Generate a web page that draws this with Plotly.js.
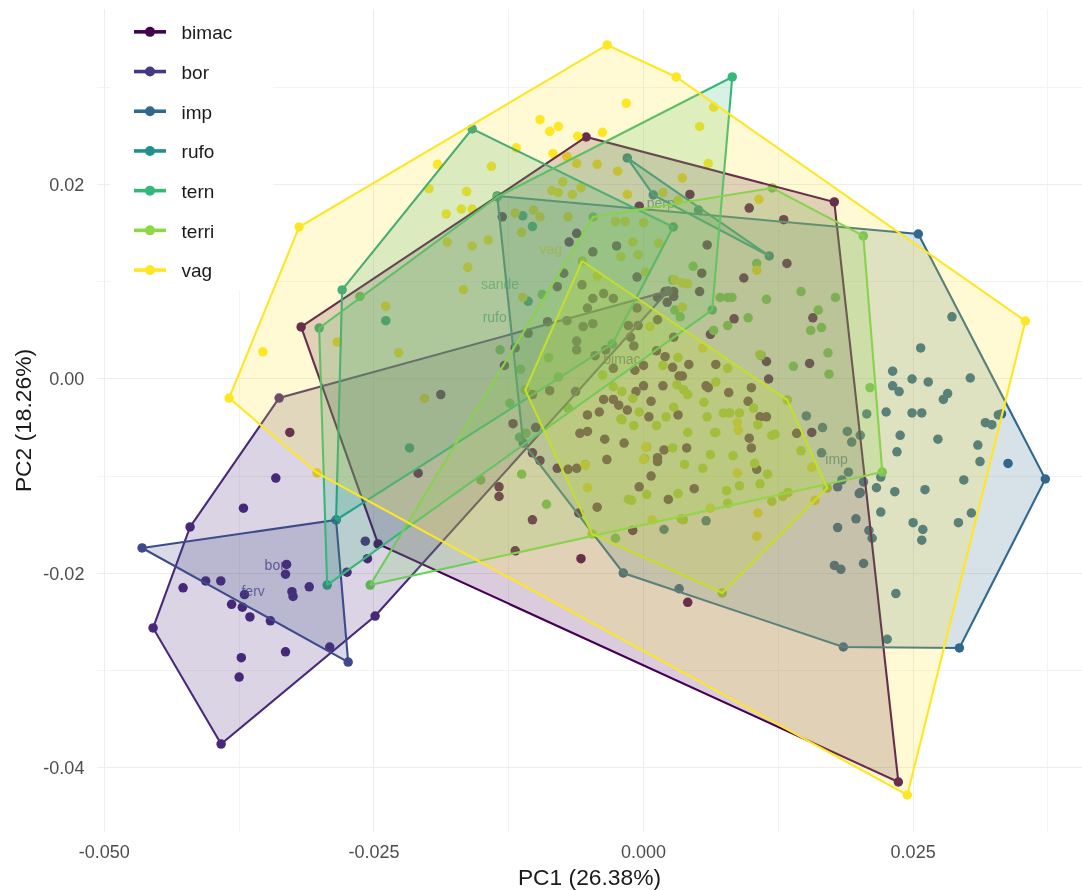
<!DOCTYPE html>
<html>
<head>
<meta charset="utf-8">
<script src="https://cdn.plot.ly/plotly-3.0.1.min.js"></script>
<style>html,body{margin:0;padding:0;background:#fff}#chart{width:1082px;height:890px;filter:blur(0.4px)}</style>
</head>
<body>
<div id="chart"></div>
<script>
const xTickVals = [-0.05, -0.025, 0, 0.025];
const xTickText = ['-0.050', '-0.025', '0.000', '0.025'];
const xMinorVals = [-0.0375, -0.0125, 0.0125, 0.0375];
const yTickVals = [-0.04, -0.02, 0, 0.02];
const yTickText = ['-0.04', '-0.02', '0.00', '0.02'];
const yMinorVals = [-0.03, -0.01, 0.01, 0.03];

const legendNames = ['bimac', 'bor', 'imp', 'rufo', 'tern', 'terri', 'vag'];
const legendColors = ['#440154', '#443A83', '#31688E', '#21908C', '#35B779', '#8FD744', '#FDE725'];

const speciesNames = ['bimac', 'bor', 'ferv', 'imp', 'perp', 'rufo', 'sande', 'tern', 'terri', 'vag'];
const speciesColors = ['#440154', '#482878', '#3E4A89', '#31688E', '#26828E', '#1F9E89', '#35B779', '#6DCD59', '#B4DE2C', '#FDE725'];

const labelX = [-0.0020, -0.0342, -0.0362, 0.0179, 0.0016, -0.0138, -0.0133, null, null, -0.0086];
const labelY = [0.0019, -0.0193, -0.0220, -0.0084, 0.0180, 0.0062, 0.0096, null, null, 0.0132];

const bimacHullX = [-0.03175, -0.00532, 0.01769, 0.02363, -0.02461];
const bimacHullY = [0.00536, 0.02492, 0.01823, -0.04150, -0.01699];
const borHullX = [-0.03917, -0.04548, -0.04205, -0.03379, 0.00229, -0.02489];
const borHullY = [-0.03759, -0.02564, -0.01524, -0.00196, 0.00906, -0.02441];
const fervHullX = [-0.04650, -0.02851, -0.02739];
const fervHullY = [-0.01740, -0.01452, -0.02915];
const impHullX = [-0.01357, 0.02548, 0.03726, 0.02929, 0.01853, -0.00188, -0.01116];
const impHullY = [0.01885, 0.01493, -0.01030, -0.02770, -0.02760, -0.01998, -0.00659];
const perpHullX = [-0.00151, 0.00090, 0.01166];
const perpHullY = [0.02276, 0.01895, 0.01267];
const rufoHullX = [-0.02795, -0.01589, 0.00276, -0.00290, -0.02851];
const rufoHullY = [0.00917, 0.02575, 0.01565, 0.00360, -0.01452];
const sandeHullX = [-0.03008, -0.01357, 0.00823, 0.00637, -0.02934];
const sandeHullY = [0.00525, 0.01874, 0.03110, 0.00711, -0.02122];
const ternHullX = [-0.02535, -0.00467, 0.01194, 0.02038, 0.02214];
const ternHullY = [-0.02122, 0.01668, 0.01967, 0.01473, -0.00958];
const terriHullX = [-0.00569, 0.01333, 0.01704, 0.00730, -0.00476, -0.01097];
const terriHullY = [0.01215, -0.00216, -0.01123, -0.02204, -0.01596, -0.00113];
const vagHullX = [-0.00337, 0.00303, 0.03541, 0.02446, -0.03027, -0.03843, -0.03194];
const vagHullY = [0.03440, 0.03110, 0.00597, -0.04284, -0.00968, -0.00196, 0.01565];

const bimacX = [0.0043,0.0098,-0.0004,0.0130,0.0059,0.0133,0.0054,0.0093,0.0052,0.0084,0.0062,0.0157,0.0154,0.0114,0.0116,0.0156,0.0142,-0.0131,-0.0062,-0.0069,-0.0047,-0.0025,-0.0080,-0.0074,-0.0006,0.0020,0.0028,0.0028,0.0022,0.0013,-0.0014,-0.0005,0.0013,-0.0012,-0.0009,0.0028,0.0012,0.0020,0.0042,0.0067,0.0027,0.0033,0.0000,-0.0008,-0.0028,0.0000,0.0018,0.0058,0.0060,-0.0007,-0.0037,-0.0028,-0.0023,-0.0015,0.0007,0.0005,0.0032,-0.0041,-0.0052,-0.0059,-0.0052,-0.0036,-0.0018,0.0040,0.0019,0.0013,0.0013,-0.0034,0.0007,-0.0004,0.0047,0.0023,-0.0043,-0.0080,-0.0070,-0.0062,-0.0103,-0.0096,-0.0100,-0.0121,-0.0134,-0.0134,-0.0103,-0.0060,-0.0057,-0.0047,-0.0037,-0.0028,-0.0052,-0.0006,-0.0071,-0.0056,-0.0047,-0.0089,-0.0107,-0.0062,-0.0062,-0.0045,-0.0035,-0.0119,-0.0129,-0.0087,-0.0103,-0.0063,0.0079,0.0100,0.0097,0.0108,0.0114,0.0098,0.0100,0.0105,0.0036,-0.0119,-0.0058,0.0041,-0.0010,-0.0209,-0.0328,-0.0188];
const bimacY = [0.0190,0.0176,0.0178,0.0164,0.0138,0.0119,0.0109,0.0104,0.0090,0.0062,0.0046,0.0063,0.0016,0.0018,0.0000,-0.0055,-0.0056,0.0167,0.0150,0.0141,0.0131,0.0137,0.0095,0.0109,0.0105,0.0090,0.0090,0.0085,0.0079,0.0084,0.0055,0.0055,0.0061,0.0043,0.0034,0.0043,0.0029,0.0023,0.0015,0.0015,0.0012,0.0003,0.0014,0.0009,0.0011,-0.0007,-0.0007,-0.0007,-0.0009,-0.0013,-0.0021,-0.0021,-0.0027,-0.0032,-0.0023,-0.0039,-0.0037,-0.0034,-0.0037,-0.0056,-0.0054,-0.0062,-0.0066,-0.0071,-0.0073,-0.0081,-0.0085,-0.0083,-0.0100,-0.0111,-0.0113,-0.0124,-0.0132,-0.0092,-0.0093,-0.0092,-0.0076,-0.0084,-0.0050,-0.0046,-0.0111,-0.0121,-0.0145,-0.0138,0.0097,0.0083,0.0088,0.0083,0.0073,0.0073,0.0060,0.0054,0.0057,0.0059,0.0047,0.0039,0.0030,0.0024,0.0030,0.0032,0.0014,-0.0012,-0.0016,-0.0013,-0.0014,-0.0009,-0.0023,-0.0039,-0.0039,-0.0061,-0.0071,-0.0093,0.0003,-0.0177,-0.0185,-0.0230,-0.0156,-0.0097,-0.0055,-0.0016];

const borX = [-0.0341,-0.0371,-0.0331,-0.0332,-0.0392,-0.0406,-0.0427,-0.0310,-0.0326,-0.0325,-0.0370,-0.0382,-0.0372,-0.0365,-0.0346,-0.0291,-0.0332,-0.0373,-0.0375,-0.0258,-0.0256,-0.0275];
const borY = [-0.0102,-0.0133,-0.0191,-0.0201,-0.0208,-0.0208,-0.0215,-0.0214,-0.0219,-0.0224,-0.0222,-0.0232,-0.0235,-0.0245,-0.0249,-0.0276,-0.0281,-0.0287,-0.0307,-0.0167,-0.0185,-0.0199];

const fervX = [];
const fervY = [];

const impX = [0.0286,0.0257,0.0231,0.0249,0.0264,0.0303,0.0231,0.0237,0.0282,0.0278,0.0207,0.0225,0.0249,0.0258,0.0329,0.0317,0.0323,0.0332,0.0238,0.0273,0.0310,0.0235,0.0312,0.0338,0.0297,0.0216,0.0233,0.0261,0.0220,0.0190,0.0184,0.0180,0.0201,0.0204,0.0200,0.0189,0.0193,0.0165,0.0166,0.0151,0.0201,0.0220,0.0304,0.0292,0.0250,0.0259,0.0258,0.0197,0.0180,0.0209,0.0212,0.0177,0.0183,0.0204,0.0234,0.0226,0.0033,0.0058,0.0019];
const impY = [0.0064,0.0032,0.0008,0.0000,-0.0003,0.0001,-0.0007,-0.0013,-0.0015,-0.0021,-0.0036,-0.0034,-0.0035,-0.0035,-0.0037,-0.0045,-0.0047,-0.0036,-0.0058,-0.0062,-0.0068,-0.0075,-0.0085,-0.0087,-0.0104,-0.0112,-0.0116,-0.0114,-0.0101,-0.0096,-0.0104,-0.0111,-0.0117,-0.0106,-0.0118,-0.0054,-0.0065,-0.0076,-0.0050,-0.0038,-0.0058,-0.0137,-0.0138,-0.0148,-0.0148,-0.0155,-0.0166,-0.0144,-0.0153,-0.0156,-0.0164,-0.0192,-0.0196,-0.0190,-0.0221,-0.0268,-0.0216,-0.0146,-0.0155];

const perpX = [0.0051];
const perpY = [0.0174];

const rufoX = [-0.0112,-0.0103,-0.0239,-0.0217,-0.0107];
const rufoY = [0.0168,0.0157,0.0060,-0.0071,0.0080];

const sandeX = [-0.0115];
const sandeY = [-0.0060];

const ternX = [0.0046,0.0105,0.0146,0.0178,0.0162,0.0165,0.0155,0.0114,0.0097,0.0078,0.0065,0.0171,0.0139,0.0172,0.0109,0.0210,0.0071,0.0078,0.0082,0.0034,0.0029,0.0027,-0.0263,-0.0114,-0.0088,-0.0124,-0.0109,-0.0070,-0.0079,-0.0151,-0.0113,-0.0090,-0.0026,-0.0094,-0.0133];
const ternY = [0.0116,0.0119,0.0090,0.0084,0.0071,0.0053,0.0050,0.0082,0.0063,0.0055,0.0050,0.0027,0.0013,0.0005,0.0024,-0.0009,0.0084,0.0084,0.0084,0.0064,0.0071,0.0102,0.0085,0.0010,0.0022,-0.0025,-0.0056,-0.0030,0.0002,-0.0104,-0.0098,-0.0129,-0.0164,0.0087,0.0030];

const terriX = [-0.0021,-0.0009,0.0012,0.0021,-0.0004,0.0028,0.0041,0.0066,0.0056,0.0059,0.0062,0.0055,0.0038,0.0003,0.0027,0.0001,-0.0054,-0.0011,0.0003,0.0032,-0.0038,-0.0020,-0.0028,0.0041,0.0037,0.0031,0.0018,0.0032,-0.0010,0.0067,0.0078,0.0108,0.0102,0.0074,0.0080,0.0089,0.0106,0.0067,0.0122,0.0119,0.0146,0.0083,0.0103,0.0115,0.0108,0.0089,0.0077,0.0078,0.0119,0.0129,0.0134,0.0037,0.0035,-0.0020,-0.0014];
const terriY = [-0.0041,-0.0048,-0.0048,-0.0039,-0.0034,-0.0029,-0.0055,-0.0055,-0.0024,-0.0039,-0.0078,-0.0092,-0.0088,-0.0070,-0.0071,-0.0082,-0.0088,-0.0125,-0.0119,-0.0118,0.0004,-0.0013,-0.0008,-0.0016,-0.0011,-0.0006,0.0014,0.0022,-0.0020,-0.0003,0.0011,0.0025,-0.0030,-0.0035,-0.0035,-0.0035,-0.0047,-0.0055,-0.0057,-0.0058,-0.0074,-0.0079,-0.0087,-0.0098,-0.0108,-0.0110,-0.0115,-0.0128,-0.0126,-0.0121,-0.0117,-0.0145,-0.0144,-0.0042,-0.0124];

const vagX = [-0.0096,-0.0087,-0.0079,-0.0061,-0.0191,-0.0141,-0.0084,-0.0071,-0.0062,-0.0075,-0.0085,-0.0079,-0.0066,-0.0058,-0.0199,-0.0164,-0.0183,-0.0169,-0.0159,-0.0182,-0.0159,-0.0144,-0.0163,-0.0167,-0.0239,-0.0284,-0.0227,-0.0353,-0.0119,-0.0102,-0.0096,-0.0113,-0.0070,-0.0112,-0.0016,-0.0038,0.0052,0.0065,-0.0043,-0.0024,0.0060,0.0036,0.0107,-0.0015,0.0018,0.0032,-0.0026,-0.0017,0.0000,-0.0010,-0.0005,-0.0021,0.0014,0.0029,0.0041,0.0036,0.0105,0.0036,0.0006,-0.0043,0.0055,0.0002,0.0000,0.0156,0.0087,-0.0052,-0.0054,0.0062,0.0159,0.0106,0.0105,0.0087,0.0088,-0.0203,0.0008,-0.0118,0.0002];
const vagY = [0.0267,0.0255,0.0260,0.0250,0.0221,0.0219,0.0232,0.0229,0.0222,0.0203,0.0194,0.0192,0.0190,0.0197,0.0196,0.0193,0.0170,0.0175,0.0175,0.0141,0.0137,0.0143,0.0115,0.0092,0.0075,0.0038,0.0027,0.0028,0.0171,0.0174,0.0167,0.0151,0.0167,0.0084,0.0284,0.0254,0.0260,0.0280,0.0221,0.0214,0.0222,0.0207,0.0185,0.0190,0.0192,0.0184,0.0162,0.0162,0.0161,0.0141,0.0128,0.0126,0.0140,0.0102,0.0098,0.0099,0.0112,0.0074,0.0054,0.0106,0.0032,-0.0070,-0.0083,-0.0091,-0.0097,-0.0112,-0.0089,-0.0133,-0.0125,-0.0138,-0.0162,-0.0045,-0.0053,-0.0020,-0.0145,0.0238,0.0110];

const hullXs = [bimacHullX, borHullX, fervHullX, impHullX, perpHullX, rufoHullX, sandeHullX, ternHullX, terriHullX, vagHullX];
const hullYs = [bimacHullY, borHullY, fervHullY, impHullY, perpHullY, rufoHullY, sandeHullY, ternHullY, terriHullY, vagHullY];
const pointXs = [bimacX, borX, fervX, impX, perpX, rufoX, sandeX, ternX, terriX, vagX];
const pointYs = [bimacY, borY, fervY, impY, perpY, rufoY, sandeY, ternY, terriY, vagY];

function rgba(hex, a) {
  const n = parseInt(hex.slice(1), 16);
  return 'rgba(' + (n >> 16) + ',' + ((n >> 8) & 255) + ',' + (n & 255) + ',' + a + ')';
}

const traces = [];
speciesNames.forEach(function (name, i) {
  traces.push({
    type: 'scatter', mode: 'markers', showlegend: false, hoverinfo: 'skip',
    x: pointXs[i].concat(hullXs[i]), y: pointYs[i].concat(hullYs[i]),
    marker: { color: speciesColors[i], size: 9.5, line: { width: 0 } }
  });
});
speciesNames.forEach(function (name, i) {
  if (labelX[i] === null) return;
  traces.push({
    type: 'scatter', mode: 'text', showlegend: false, hoverinfo: 'skip',
    x: [labelX[i]], y: [labelY[i]], text: [name],
    textposition: 'middle center',
    textfont: { family: 'Liberation Sans, Arial, sans-serif', size: 14, color: rgba(speciesColors[i], 0.75) }
  });
});
speciesNames.forEach(function (name, i) {
  traces.push({
    type: 'scatter', mode: 'lines', showlegend: false, hoverinfo: 'skip',
    x: hullXs[i].concat([hullXs[i][0]]), y: hullYs[i].concat([hullYs[i][0]]),
    fill: 'toself', fillcolor: rgba(speciesColors[i], 0.2),
    line: { color: speciesColors[i], width: 2.1 }
  });
});
legendNames.forEach(function (name, i) {
  traces.push({
    type: 'scatter', mode: 'lines+markers', name: '\u00a0\u00a0' + name, legendgroup: name,
    x: [null], y: [null],
    line: { color: legendColors[i], width: 3.6 },
    marker: { color: legendColors[i], size: 10 }
  });
});

const grid = { gridcolor: '#EDEDED', gridwidth: 1.4 };
const minor = { showgrid: true, gridcolor: '#F3F3F3', gridwidth: 1, ticks: '' };

const layout = {
  width: 1082, height: 890,
  margin: { l: 97, r: 0, t: 9, b: 58 },
  paper_bgcolor: '#fff', plot_bgcolor: '#fff',
  font: { family: 'Liberation Sans, Arial, sans-serif', color: '#000' },
  xaxis: Object.assign({
    range: [-0.05068, 0.04066], tickmode: 'array', tickvals: xTickVals, ticktext: xTickText,
    minor: Object.assign({ tickmode: 'array', tickvals: xMinorVals }, minor),
    zeroline: false, showline: false, ticks: 'outside', ticklen: 3, tickcolor: 'rgba(0,0,0,0)',
    automargin: false,
    tickfont: { size: 18, color: '#4D4D4D' },
    title: { text: 'PC1 (26.38%)', font: { size: 22.8, color: '#1a1a1a' }, standoff: 11 }
  }, grid),
  yaxis: Object.assign({
    range: [-0.04665, 0.0381], tickmode: 'array', tickvals: yTickVals, ticktext: yTickText,
    minor: Object.assign({ tickmode: 'array', tickvals: yMinorVals }, minor),
    zeroline: false, showline: false, ticks: 'outside', ticklen: 8, tickcolor: 'rgba(0,0,0,0)',
    automargin: false,
    tickfont: { size: 18, color: '#4D4D4D' },
    title: { text: 'PC2 (18.26%)', font: { size: 22.8, color: '#1a1a1a' }, standoff: 5 }
  }, grid),
  shapes: [{
    type: 'rect', layer: 'between', xref: 'x', yref: 'y',
    x0: -0.04947, x1: -0.03435, y0: 0.00906, y1: 0.0381,
    fillcolor: '#fff', line: { width: 0 }
  }],
  legend: {
    x: (129 - 97) / 985, xanchor: 'left', y: 1 - 4 / 823, yanchor: 'top',
    bgcolor: 'rgba(0,0,0,0)', borderwidth: 0, traceorder: 'grouped', tracegroupgap: 12,
    itemwidth: 32, font: { size: 19, color: '#1a1a1a' }
  }
};

Plotly.newPlot('chart', traces, layout, { displayModeBar: false, responsive: false });
</script>
</body>
</html>
